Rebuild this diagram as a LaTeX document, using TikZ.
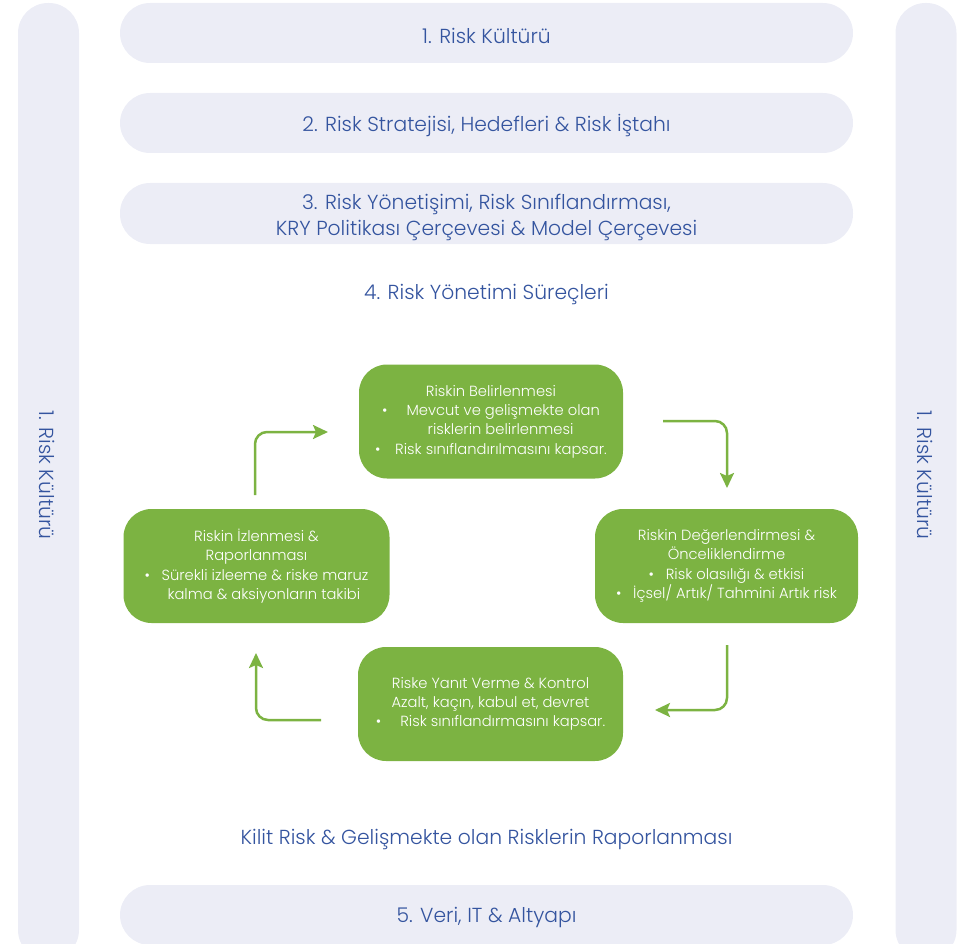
\documentclass[tikz,border=0pt]{standalone}
\usepackage{fontspec}
\setmainfont{Poppins}[UprightFont={* Light}]
\usetikzlibrary{arrows.meta}
\definecolor{pill}{HTML}{ECEDF6}
\definecolor{ink}{HTML}{34549F}
\definecolor{leaf}{HTML}{7CB342}
\newcommand\dnshift[2][2.5pt]{\raisebox{-#1}[\height][\depth]{#2}}
\begin{document}
\begin{tikzpicture}[x=1pt,y=-1pt,
  bar/.style={fill=pill, rounded corners=30pt, minimum width=733pt, minimum height=60pt,
    inner sep=0pt, text=ink, font=\fontsize{20.3}{26}\selectfont, align=center},
  sidepill/.style={fill=pill, rounded corners=30pt, minimum width=61pt, minimum height=957pt, inner sep=0pt},
  sidelabel/.style={text=ink, font=\fontsize{20.3}{26}\selectfont, rotate=-90, inner sep=0pt},
  plain/.style={text=ink, font=\fontsize{20.3}{26}\selectfont, align=center, inner sep=0pt},
  gbox/.style={fill=leaf, rounded corners=28pt, minimum height=114pt, inner sep=0pt,
    text=white, font=\fontsize{14.7}{19.3}\selectfont, align=center},
  flow/.style={draw=leaf, line width=2.5pt, rounded corners=12pt,
    -{Stealth[length=15pt,width=14pt,inset=3pt]}}]
\useasboundingbox (0,0) rectangle (966,944);
\clip (0,0) rectangle (966,944);
% side pills
\node[sidepill] (lpill) at (48.5,481.5) {};
\node[sidepill] (rpill) at (926,481.5) {};
\node[sidelabel] (llab) at (47,475) {1. Risk Kültürü};
\node[sidelabel] (rlab) at (925,475) {1. Risk Kültürü};
% bars
\node[bar] (b1) at (486.5,33) {\dnshift{1. Risk Kültürü}};
\node[bar] (b2) at (486.5,123) {\dnshift{2. Risk Stratejisi, Hedefleri \& Risk İştahı}};
\node[bar, minimum height=61pt] (b3) at (486.5,213.5) {\dnshift[4pt]{\parbox{600pt}{\centering 3. Risk Yönetişimi, Risk Sınıflandırması,\\KRY Politikası Çerçevesi \& Model Çerçevesi}}};
\node[plain] (t4) at (486.5,292) {\dnshift{4. Risk Yönetimi Süreçleri}};
\node[plain] (tk) at (486.5,837) {\dnshift{Kilit Risk \& Gelişmekte olan Risklerin Raporlanması}};
\node[bar] (b5) at (486.5,915) {\dnshift{5. Veri, IT \& Altyapı}};
% green boxes
\node[gbox, minimum width=264pt] (g1) at (491,421.5) {Riskin Belirlenmesi\\
  •\hspace{1.3em}Mevcut ve gelişmekte olan\\
  \hspace{1.3em}risklerin belirlenmesi\\
  •\hspace{1em}Risk sınıflandırılmasını kapsar.};
\node[gbox, minimum width=263pt] (g2) at (726.5,566) {Riskin Değerlendirmesi \&\\
  Önceliklendirme\\
  •\hspace{0.8em}Risk olasılığı \& etkisi\\
  •\hspace{0.8em}İçsel/ Artık/ Tahmini Artık risk};
\node[gbox, minimum width=265pt] (g3) at (490.5,704) {Riske Yanıt Verme \& Kontrol\\
  Azalt, kaçın, kabul et, devret\\
  •\hspace{1.3em}Risk sınıflandırmasını kapsar.};
\node[gbox, minimum width=266pt] (g4) at (256.5,566) {Riskin İzlenmesi \&\\
  Raporlanması\\
  •\hspace{0.8em}Sürekli izleeme \& riske maruz\\
  \hspace{1em}kalma \& aksiyonların takibi};
% arrows
\coordinate (a1s) at (255,495); \coordinate (a1e) at (328,432);
\coordinate (a2s) at (663,421); \coordinate (a2e) at (727,488);
\coordinate (a3s) at (727,645); \coordinate (a3e) at (655,710);
\coordinate (a4s) at (321,720); \coordinate (a4e) at (256,653);
\draw[flow] (a1s) |- (a1e);
\draw[flow] (a2s) -| (a2e);
\draw[flow] (a3s) |- (a3e);
\draw[flow] (a4s) -| (a4e);
\end{tikzpicture}
\end{document}
